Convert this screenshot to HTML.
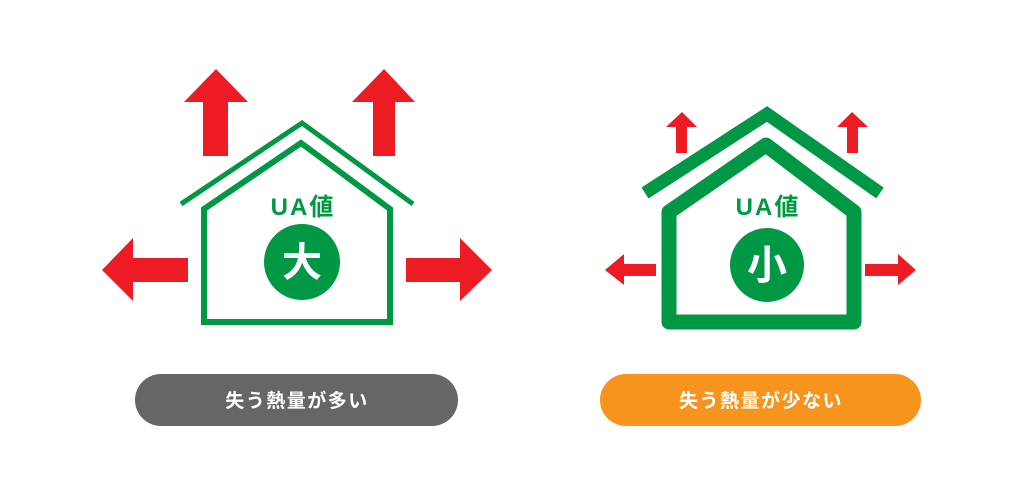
<!DOCTYPE html>
<html><head><meta charset="utf-8"><style>
html,body{margin:0;padding:0;background:#fff;width:1024px;height:502px;overflow:hidden}
svg{display:block}
text{font-family:"Liberation Sans","Noto Sans CJK JP",sans-serif}
</style></head><body>
<svg width="1024" height="502" viewBox="0 0 1024 502">
<g fill="#ed1c24">
<polygon points="203,156 228,156 228,102 248,102 216,69 184,102 203,102"/>
<polygon points="373,156 395,156 395,102 415,102 384,69 352,102 373,102"/>
<polygon points="188,258 188,282 133,282 133,301 102,270 133,238 133,258"/>
<polygon points="406,258 406,282 460,282 460,301 492,270 460,238 460,258"/>
<polygon points="676,153 687,153 687,127 697,127 682,112 666,127 676,127"/>
<polygon points="847,153 858,153 858,127 868,127 852,112 837,127 847,127"/>
<polygon points="656,264 656,276 624,276 624,285 605,270 624,254 624,264"/>
<polygon points="865,264 865,276 898,276 898,285 916,270 898,254 898,264"/>
</g>
<g fill="none" stroke="#009844" stroke-linejoin="miter">
<polyline points="181,204 302,123 413,204" stroke-width="5"/>
<polygon points="204,209 301,143 390,209 390,322 204,322" stroke-width="6"/>
<polyline points="645,193 767,114 880,193" stroke-width="13"/>
<polygon points="669,212 766,145 854,212 854,322 669,322" stroke-width="15" stroke-linejoin="round"/>
</g>
<g fill="#009844">
<circle cx="302" cy="262" r="38"/>
<circle cx="767" cy="265" r="37"/>
<text x="303" y="215" font-size="24" font-weight="bold" letter-spacing="2" text-anchor="middle">UA値</text>
<text x="768" y="215" font-size="24" font-weight="bold" letter-spacing="2" text-anchor="middle">UA値</text>
</g>
<g fill="#fff" text-anchor="middle" font-weight="bold">
<text x="302" y="276" font-size="40">大</text>
<text x="767" y="279" font-size="40">小</text>
</g>
<rect x="135" y="374" width="323" height="52" rx="26" fill="#666"/>
<rect x="600" y="374" width="321" height="52" rx="26" fill="#f7941d"/>
<g fill="#fff" font-size="19" font-weight="bold" letter-spacing="1.5" text-anchor="middle">
<text x="297" y="407">失う熱量が多い</text>
<text x="761" y="407">失う熱量が少ない</text>
</g>
</svg>
</body></html>
